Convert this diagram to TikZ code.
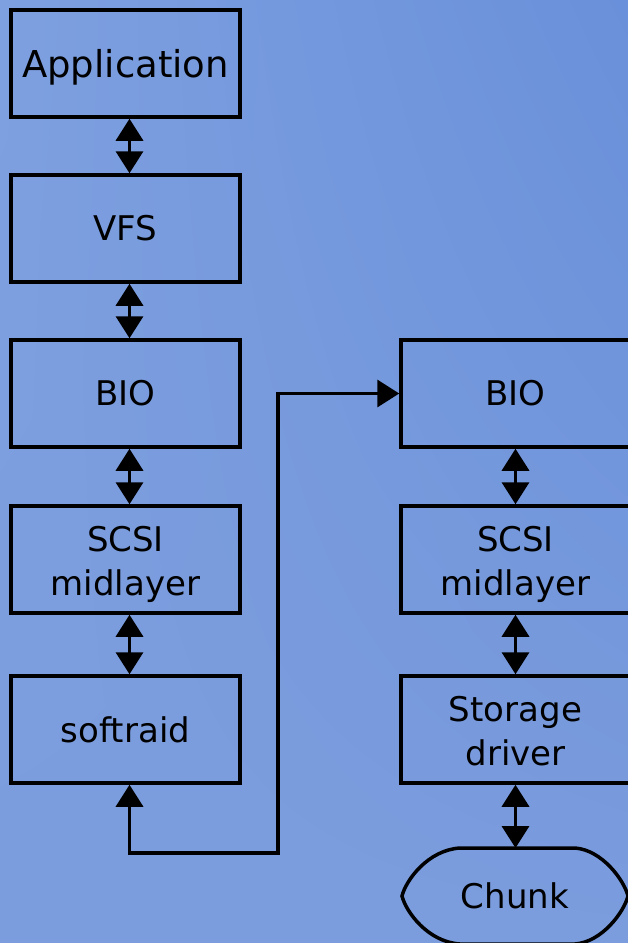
\documentclass[tikz,border=0pt]{standalone}
\usepackage{fontspec}
\setmainfont{DejaVu Sans}
\usetikzlibrary{arrows.meta,shadings}
\definecolor{bgUL}{HTML}{7EA0E0}
\definecolor{bgUR}{HTML}{6990DA}
\definecolor{bgLL}{HTML}{7C9DDD}
\definecolor{bgLR}{HTML}{7B9CDD}
\tikzset{
  layer/.style={draw=black, line width=3.5pt, minimum width=229pt, minimum height=107pt,
    inner sep=0pt},
  caption/.style={inner sep=0pt, align=center, font=\fontsize{34}{44}\selectfont},
  link/.style={line width=3.5pt, {Triangle[width=27pt,length=22pt]}-{Triangle[width=27pt,length=22pt]}},
}
\begin{document}
\begin{tikzpicture}[x=1pt,y=-1pt]
  \useasboundingbox (0,0) rectangle (628,943);
  \shade[upper left=bgUL, upper right=bgUR, lower left=bgLL, lower right=bgLR]
    (0,0) rectangle (628,943);

  % left stack
  \node[layer] (app)   at (125.5,63.5)  {};
  \node[layer] (vfs)   at (125.5,228.5) {};
  \node[layer] (bioL)  at (125.5,393.5) {};
  \node[layer] (scsiL) at (125.5,559.5) {};
  \node[layer] (soft)  at (125.5,729.5) {};
  \node[caption, font=\fontsize{37}{44}\selectfont] (appT) at ([yshift=-4pt]app.center) {Application};
  \node[caption] (vfsT)   at (vfs.center)  {VFS};
  \node[caption] (bioLT)  at (bioL.center) {BIO};
  \node[caption] (scsiLT) at ([yshift=-5pt]scsiL.center) {SCSI\\midlayer};
  \node[caption] (softT)  at (soft.center) {softraid};

  % right stack
  \node[layer] (bioR)  at (515.5,393.5) {};
  \node[layer] (scsiR) at (515.5,559.5) {};
  \node[layer] (drv)   at (515.5,729.5) {};
  \node[caption] (bioRT)  at (bioR.center) {BIO};
  \node[caption] (scsiRT) at ([yshift=-5pt]scsiR.center) {SCSI\\midlayer};
  \node[caption] (drvT)   at ([yshift=-1.5pt]drv.center) {Storage\\driver};

  % chunk terminal
  \draw[line width=3.5pt]
    (460,848) -- (575,848)
    .. controls (602,850) and (624,880) .. (628,896)
    .. controls (624,912) and (602,942) .. (575,944)
    -- (460,944)
    .. controls (428,942) and (406,912) .. (402,896)
    .. controls (406,880) and (428,850) .. (460,848) -- cycle;
  \node[caption] (chunk) at (515,896) {Chunk};
  \coordinate (chunktop) at (515.5,848);

  % vertical links
  \draw[link] ([xshift=4pt]app.south) -- ([xshift=4pt]vfs.north);
  \draw[link] ([xshift=4pt]vfs.south) -- ([xshift=4pt]bioL.north);
  \draw[link] ([xshift=4pt]bioL.south) -- ([xshift=4pt]scsiL.north);
  \draw[link] ([xshift=4pt]scsiL.south) -- ([xshift=4pt]soft.north);
  \draw[link] (bioR.south) -- (scsiR.north);
  \draw[link] (scsiR.south) -- (drv.north);
  \draw[link] (drv.south) -- (chunktop);

  % softraid to remote BIO
  \coordinate (turn) at (278,853);
  \draw[link] ([xshift=4pt]soft.south) |- (turn) |- (bioR.west);
\end{tikzpicture}
\end{document}
